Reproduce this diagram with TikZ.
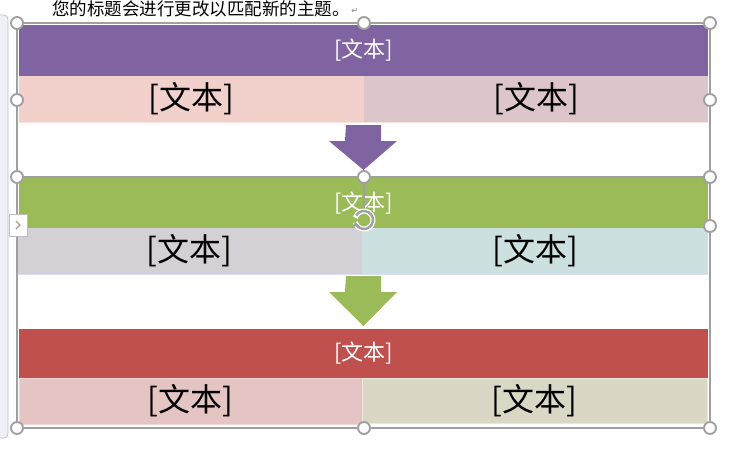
\documentclass[tikz,border=0pt]{standalone}
\usepackage{fontspec}
\newfontfamily\cjk{Noto Sans CJK SC}
\newfontfamily\dejavu{DejaVu Sans}
\usetikzlibrary{arrows.meta,calc}
\definecolor{hpurple}{HTML}{8064A2}
\definecolor{hgreen}{HTML}{9BBB59}
\definecolor{hred}{HTML}{C0504D}
\definecolor{rAl}{HTML}{F2D0CB}
\definecolor{rAr}{HTML}{DCC6CB}
\definecolor{rBl}{HTML}{D3D0D6}
\definecolor{rBr}{HTML}{CCE0E0}
\definecolor{rCl}{HTML}{E5C4C4}
\definecolor{rCr}{HTML}{DAD8C4}
\definecolor{selgray}{HTML}{A0A0A0}
\definecolor{panelfill}{HTML}{EFEFF5}
\definecolor{panelline}{HTML}{B4C6CE}
\tikzset{
  header/.style={anchor=north west, inner sep=0pt, outer sep=0pt, minimum width=689pt, minimum height=51pt, text=white, font=\cjk\fontsize{22}{25}\selectfont},
  cell/.style={anchor=north west, inner sep=0pt, outer sep=0pt, minimum height=46pt, text=black, font=\cjk\fontsize{32}{36}\selectfont},
  handle/.style={circle, draw=selgray, line width=1.9pt, fill=white, minimum size=12pt, inner sep=0pt},
  selline/.style={draw=selgray, line width=1.3pt},
}
\begin{document}
\begin{tikzpicture}[x=1pt,y=-1pt]
\useasboundingbox (0,0) rectangle (736,448);
\fill[white] (0,0) rectangle (736,448);
% side panel
\draw[draw=panelline, fill=panelfill, line width=0.8pt, rounded corners=4pt] (-8,15) rectangle (8,438);
% top text
\node[anchor=west, inner sep=0pt, font=\cjk\fontsize{17.5}{19}\selectfont] (title) at (52,9) {您的标题会进行更改以匹配新的主题。};
\node[anchor=west, inner sep=0pt, text=gray, font=\dejavu\fontsize{8}{9}\selectfont] (ret) at ($(title.east)+(0,2)$) {\,↵};
% block 1
\node[header, fill=hpurple] (h1) at (19,25) {[文本]};
\node[cell, fill=rAl, minimum width=345pt] (c1l) at (19,76) {[文本]};
\node[cell, fill=rAr, minimum width=344pt] (c1r) at (364,76) {[文本]};
\draw[draw=rAl!60!white, line width=1pt] (c1l.south west) -- (c1r.south east);
% block 2
\node[header, fill=hgreen, minimum height=50pt] (h2) at (19,178) {[文本]};
\node[cell, fill=rBl, minimum width=345pt] (c2l) at (17,228) {[文本]};
\node[cell, fill=rBr, minimum width=346pt] (c2r) at (362,228) {[文本]};
\draw[draw=rBl!70!blue!30!white, line width=1pt] (c2l.south west) -- (c2r.south east);
% block 3
\node[header, fill=hred, minimum height=49pt] (h3) at (19,329) {[文本]};
\node[cell, fill=rCl, minimum width=343pt, draw=rCl!70!white] (c3l) at (19,378) {[文本]};
\node[cell, fill=rCr, minimum width=345pt, minimum height=45pt, draw=rCr!60!white] (c3r) at (362,378) {[文本]};
% arrows
\fill[hpurple] ($(c1r.south west)+(-18,3)$) coordinate (a1) -- ++(35,0) -- ++(0,16) -- ++(16,0) -- ($(h2.north)+(0,-8)$) coordinate (a1tip) -- ($(c1r.south west)+(-35,19)$) -- ++(16,0) -- cycle;
\fill[hgreen] ($(c2r.south west)+(-16,2)$) coordinate (a2) -- ++(35,0) -- ++(0,16) -- ++(16,0) -- ($(h3.north)+(0,-3)$) coordinate (a2tip) -- ($(c2r.south west)+(-33,18)$) -- ++(16,0) -- cycle;
% selection frames
\coordinate (TL) at (17,23);
\coordinate (TR) at (710,23);
\coordinate (BL) at (17,428);
\coordinate (BR) at (710,428);
\draw[selline] (TL) rectangle (BR);
\draw[selline] (17,177) coordinate (ML) -- (710,177) coordinate (MR);
\coordinate (rotc) at (364,220);
\draw[selline] (364,177) -- (364,210);
% rotation handle
\draw[white, line width=5pt] (rotc) ++(165:9) arc[start angle=165, end angle=-165, radius=9];
\draw[selgray, line width=2.4pt, -{Stealth[length=6pt,width=8pt]}] (rotc) ++(-150:9) arc[start angle=-150, end angle=170, radius=9];
% handles
\foreach \p/\n in {{(17,23)}/hA,{(364,23)}/hB,{(710,23)}/hC,{(17,100)}/hD,{(710,100)}/hE,{(17,177)}/hF,{(364,177)}/hG,{(710,177)}/hH,{(710,226)}/hI,{(17,428)}/hJ,{(364,428)}/hK,{(710,428)}/hL}
  \node[handle] (\n) at \p {};
% expander tab
\node[draw=selgray!70!white, fill=white, line width=0.8pt, minimum width=18pt, minimum height=22pt, inner sep=0pt] (tab) at (18,225) {};
\draw[selgray, line width=1.2pt] ($(tab.center)+(-2,-4)$) -- ++(4,4) -- ++(-4,4);
\end{tikzpicture}
\end{document}
